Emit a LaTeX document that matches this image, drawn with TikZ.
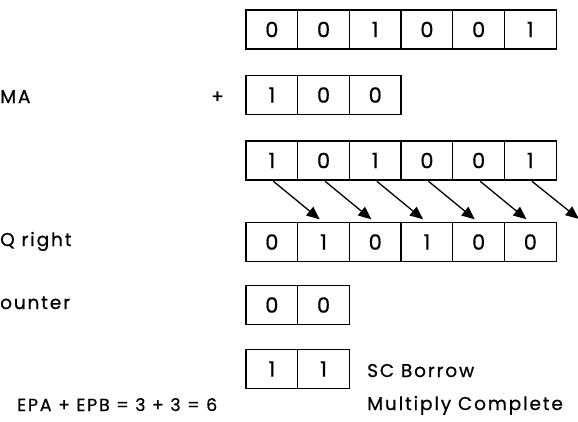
\documentclass[tikz,border=0pt]{standalone}
\usepackage{fontspec}
\setmainfont{Poppins}[LetterSpace=10,FakeBold=0.6]
\usetikzlibrary{positioning,arrows.meta}

\begin{document}
\begin{tikzpicture}[x=1pt,y=-1pt,
    cell/.style={draw,line width=1.3pt,minimum width=51.7pt,minimum height=39pt,inner sep=0pt,outer sep=0pt,font=\fontsize{21}{22}\selectfont},
    txt/.style={anchor=base west,inner sep=0pt,font=\fontsize{18.5}{20}\selectfont},
    arr/.style={-{Triangle[length=13pt,width=11pt]},line width=1.3pt,shorten <=2pt,shorten >=5pt}]
    \useasboundingbox[fill=white] (0,0) rectangle (578,421);
    % registers
    \foreach \b [count=\i] in {0,0,1,0,0,1} \node[cell] (ac\i) at ({220.15+\i*51.7},29.5) {\b};
    \foreach \b [count=\i] in {1,0,0} \node[cell] (md\i) at ({220.15+\i*51.7},95) {\b};
    \foreach \b [count=\i] in {1,0,1,0,0,1} \node[cell] (sm\i) at ({220.15+\i*51.7},160.5) {\b};
    \foreach \b [count=\i] in {0,1,0,1,0,0} \node[cell] (sh\i) at ({220.15+\i*51.7},242) {\b};
    \foreach \b [count=\i] in {0,0} \node[cell] (sc\i) at ({220.15+\i*51.7},305) {\b};
    \foreach \b [count=\i] in {1,1} \node[cell] (bw\i) at ({220.15+\i*51.7},369) {\b};
    \node[txt] (plus) at (211,103) {+};
    % labels
    \node[txt] (lma) at (0,103) {MA};
    \node[txt] (lsh) at (0,246) {Q right};
    \node[txt] (lct) at (0,309) {ounter};
    \node[txt] (lbw) at (367,377) {SC Borrow};
    \node[txt] (ldone) at (367,410) {Multiply Complete};
    \node[txt,font=\fontsize{17.5}{20}\selectfont] (lsum) at (17,411) {EPA + EPB = 3 + 3 = 6};
    % shift right
    \coordinate (lost) at (582.7,222);
    \foreach \i [evaluate=\i as \j using int(\i+1)] in {1,...,5} \draw[arr] (sm\i.south) -- (sh\j.north);
    \draw[arr] (sm6.south) -- (lost);
\end{tikzpicture}
\end{document}
